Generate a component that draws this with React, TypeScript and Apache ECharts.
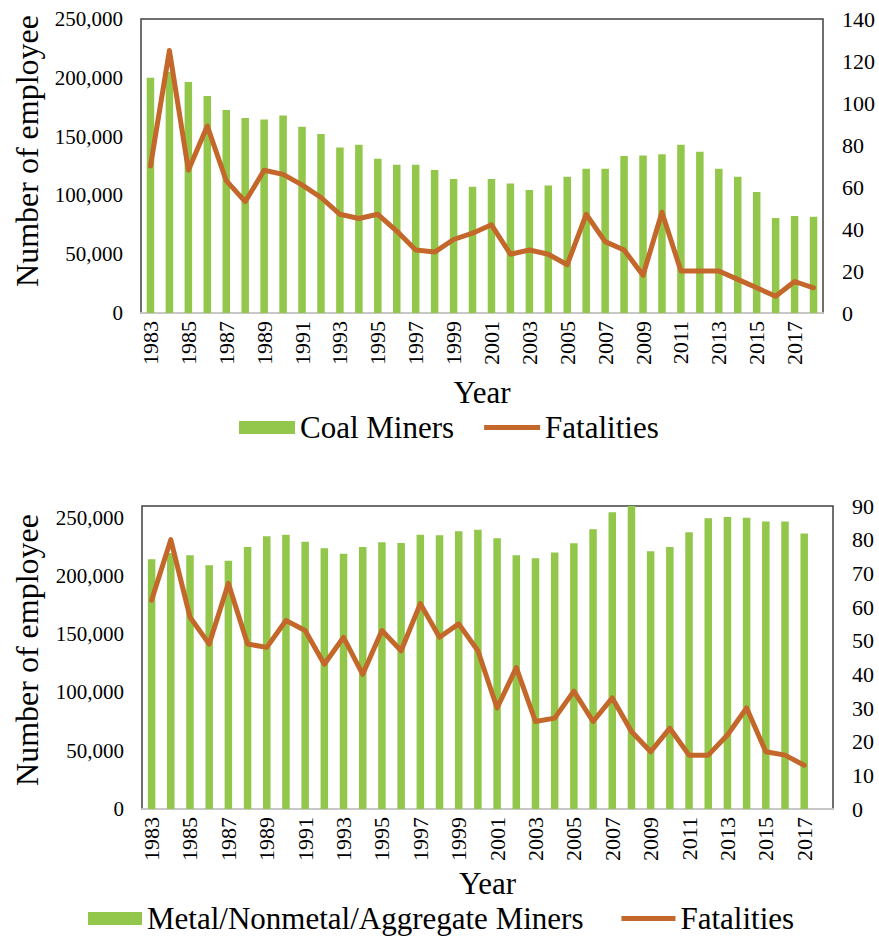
import React, { useEffect, useRef } from 'react';
import * as echarts from 'echarts';

const years = ['1983','1984','1985','1986','1987','1988','1989','1990','1991','1992','1993','1994','1995','1996','1997','1998','1999','2000','2001','2002','2003','2004','2005','2006','2007','2008','2009','2010','2011','2012','2013','2014','2015','2016','2017','2018'];

const coalMiners = [200000, 205000, 196400, 184500, 172600, 165800, 164600, 168000, 158400, 152200, 140800, 143100, 131200, 126100, 126100, 121600, 113900, 107400, 113900, 110200, 104600, 108500, 115900, 122700, 122700, 133500, 134000, 134900, 143100, 137200, 122700, 115900, 102900, 80800, 82500, 81900];
const coalFatalities = [70, 125, 68, 89, 63, 53, 68, 66, 61, 55, 47, 45, 47, 39, 30, 29, 35, 38, 42, 28, 30, 28, 23, 47, 34, 30, 18, 48, 20, 20, 20, 16, 12, 8, 15, 12];

const metalMiners = [214300, 219700, 217700, 209100, 213100, 224800, 234000, 235400, 229400, 223700, 219100, 224800, 228800, 228300, 235400, 234800, 238300, 239700, 232300, 217700, 215100, 220000, 228000, 240000, 254600, 260000, 221100, 224800, 237400, 249400, 250600, 250000, 246600, 246600, 236300, null];
const metalFatalities = [62, 80, 57, 49, 67, 49, 48, 56, 53, 43, 51, 40, 53, 47, 61, 51, 55, 47, 30, 42, 26, 27, 35, 26, 33, 23, 17, 24, 16, 16, 22, 30, 17, 16, 13, null];

const FONT = '"Liberation Serif", "Times New Roman", serif';
const GREEN = '#92C74B';
const ORANGE = '#C4672A';
const LINE_ICON = 'path://M0,0 L60,0 L60,5.5 L0,5.5 Z';

const fmt = (v: number) => v.toLocaleString('en-US');

function xAxisFor(gridIndex: number, nameGap: number) {
  return {
    type: 'category',
    gridIndex,
    data: years,
    name: 'Year',
    nameLocation: 'middle',
    nameGap,
    nameTextStyle: { fontFamily: FONT, fontSize: 31, color: '#000' },
    axisTick: { show: false },
    axisLine: { lineStyle: { color: '#c8c8c8', width: 2 } },
    axisLabel: { rotate: 90, interval: 1, fontFamily: FONT, fontSize: 22, color: '#000', margin: 8 },
    splitLine: { show: false },
  };
}

function yAxisFor(gridIndex: number, position: 'left' | 'right', max: number, interval: number, left: boolean) {
  return {
    type: 'value',
    gridIndex,
    position,
    min: 0,
    max,
    interval,
    axisLine: { show: false },
    axisTick: { show: false },
    splitLine: { show: false },
    axisLabel: {
      fontFamily: FONT,
      fontSize: left ? 21 : 22,
      color: '#000',
      margin: left ? 18 : 19,
      showMaxLabel: max % interval === 0,
      formatter: left ? (v: number) => fmt(v) : (v: number) => String(v),
    },
  };
}

export default function App() {
  const ref = useRef<HTMLDivElement>(null);
  useEffect(() => {
    const chart = echarts.init(ref.current!, null, { renderer: 'svg' });
    chart.setOption({
      animation: false,
      backgroundColor: '#fff',
      textStyle: { fontFamily: FONT },
      grid: [
        { left: 141, top: 19, width: 682, height: 294, show: true, borderColor: '#404040', borderWidth: 1.5 },
        { left: 142, top: 506, width: 691, height: 303, show: true, borderColor: '#404040', borderWidth: 1.5 },
      ],
      xAxis: [xAxisFor(0, 64), xAxisFor(1, 59)],
      yAxis: [
        yAxisFor(0, 'left', 250000, 50000, true),
        yAxisFor(0, 'right', 140, 20, false),
        yAxisFor(1, 'left', 260000, 50000, true),
        yAxisFor(1, 'right', 90, 10, false),
      ],
      legend: [
        {
          left: 234, top: 407,
          itemWidth: 56, itemHeight: 13, itemGap: 30,
          textStyle: { fontFamily: FONT, fontSize: 31, color: '#000' },
          data: [{ name: 'Coal Miners', icon: 'rect' }, { name: 'Fatalities', icon: LINE_ICON }],
        },
        {
          left: 83, top: 898,
          itemWidth: 54, itemHeight: 13, itemGap: 38,
          textStyle: { fontFamily: FONT, fontSize: 31, color: '#000' },
          data: [{ name: 'Metal/Nonmetal/Aggregate Miners', icon: 'rect' }, { name: 'Fatalities', icon: LINE_ICON }],
        },
      ],
      graphic: [
        {
          type: 'text', x: 27, y: 151, rotation: Math.PI / 2,
          style: { text: 'Number of employee', fontFamily: FONT, fontSize: 32, fill: '#000', align: 'center', verticalAlign: 'middle' },
        },
        {
          type: 'text', x: 27, y: 650, rotation: Math.PI / 2,
          style: { text: 'Number of employee', fontFamily: FONT, fontSize: 32, fill: '#000', align: 'center', verticalAlign: 'middle' },
        },
      ],
      series: [
        { name: 'Coal Miners', type: 'bar', xAxisIndex: 0, yAxisIndex: 0, data: coalMiners, barWidth: 7.5, itemStyle: { color: GREEN } },
        {
          name: 'Fatalities', type: 'line', xAxisIndex: 0, yAxisIndex: 1, data: coalFatalities,
          symbol: 'none', itemStyle: { color: ORANGE }, lineStyle: { color: ORANGE, width: 5, cap: 'round', join: 'round' },
        },
        { name: 'Metal/Nonmetal/Aggregate Miners', type: 'bar', xAxisIndex: 1, yAxisIndex: 2, data: metalMiners, barWidth: 7.5, itemStyle: { color: GREEN } },
        {
          name: 'Fatalities', type: 'line', xAxisIndex: 1, yAxisIndex: 3, data: metalFatalities,
          symbol: 'none', itemStyle: { color: ORANGE }, lineStyle: { color: ORANGE, width: 5, cap: 'round', join: 'round' },
        },
      ],
    });
    return () => chart.dispose();
  }, []);
  return <div ref={ref} style={{ position: 'absolute', left: 0, top: 0, width: 879, height: 937, background: '#fff' }} />;
}
